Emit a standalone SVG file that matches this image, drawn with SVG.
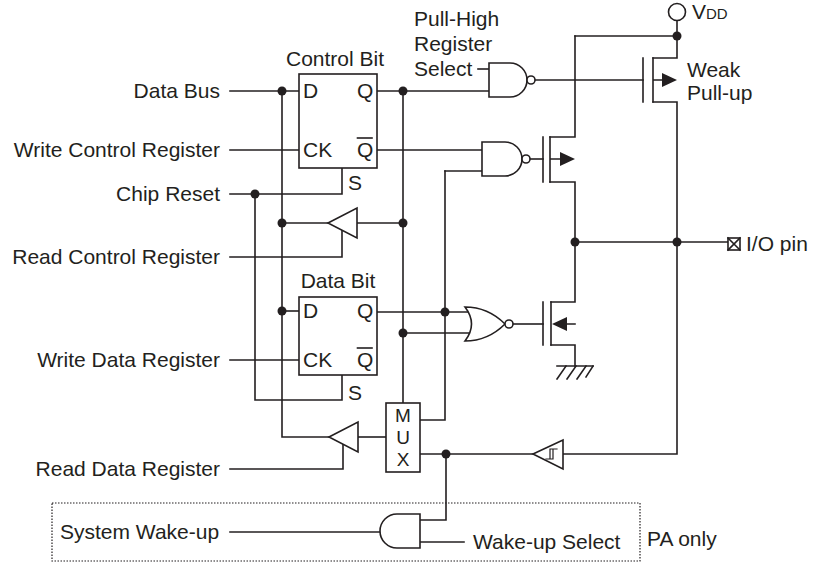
<svg xmlns="http://www.w3.org/2000/svg" width="817" height="565" viewBox="0 0 817 565">
<style>
.w{fill:none;stroke:#231f20;stroke-width:1.6;stroke-linecap:square}
.s{fill:#fff;stroke:#231f20;stroke-width:1.6}
.f{fill:#231f20;stroke:none}
.t{font-family:"Liberation Sans",Arial,sans-serif;font-size:21px;fill:#231f20}
.e{text-anchor:end}
.m{text-anchor:middle}
</style>
<defs>
<circle id="dot" r="4.5" class="f"/>
</defs>
<rect width="817" height="565" fill="#fff"/>

<g id="connectors" class="w">
<path d="M230,91 H299"/>
<path d="M230,150 H299"/>
<path d="M230,194 H342 V168"/>
<path d="M230,257 H342 V230"/>
<path d="M230,360 H299"/>
<path d="M230,469 H343 V444"/>
<path d="M282,91 V437 H329"/>
<path d="M282,311 H299"/>
<path d="M282,223 H328"/>
<path d="M255,194 V400 H342 V375"/>
<path d="M377,91 H489"/>
<path d="M403,91 V403"/>
<path d="M357,223 H403"/>
<path d="M403,333 H470"/>
<path d="M377,150 H482"/>
<path d="M478,69 H489"/>
<path d="M535,80 H643"/>
<path d="M530,159 H543"/>
<path d="M377,312 H470"/>
<path d="M445,171 H482"/>
<path d="M445,171 V420 H420"/>
<path d="M513,324 H543"/>
<path d="M358,437 H386"/>
<path d="M677,20.5 V58 H653"/>
<path d="M575,36 H677"/>
<path d="M575,36 V137 H550"/>
<path d="M653,102 H677 V454 H563"/>
<path d="M550,182 H575 V302 H551"/>
<path d="M551,345 H575 V366"/>
<path d="M575,242 H728"/>
<path d="M533,454 H420"/>
<path d="M446,454 V520 H420"/>
<path d="M420,542 H464"/>
<path d="M380,532 H230"/>
<use href="#dot" x="282" y="91"/>
<use href="#dot" x="403" y="91"/>
<use href="#dot" x="255" y="194"/>
<use href="#dot" x="282" y="223"/>
<use href="#dot" x="403" y="223"/>
<use href="#dot" x="282" y="311"/>
<use href="#dot" x="445" y="312"/>
<use href="#dot" x="403" y="333"/>
<use href="#dot" x="575" y="242"/>
<use href="#dot" x="677" y="242"/>
<use href="#dot" x="677" y="36"/>
<use href="#dot" x="446" y="454"/>
</g>

<g id="labels-left" class="t e">
<text x="220" y="98">Data Bus</text>
<text x="220" y="157">Write Control Register</text>
<text x="220" y="201">Chip Reset</text>
<text x="220" y="264">Read Control Register</text>
<text x="220" y="367">Write Data Register</text>
<text x="220" y="476">Read Data Register</text>
</g>

<g id="ff-control">
<rect x="299" y="74" width="78" height="94" class="s"/>
<text class="t m" x="335" y="66">Control Bit</text>
<text class="t" x="303" y="98">D</text>
<text class="t" x="357" y="98">Q</text>
<text class="t" x="303" y="157">CK</text>
<text class="t" x="357" y="157">Q</text>
<path class="w" d="M357.5,138 H372"/>
<text class="t" x="348" y="190">S</text>
</g>

<g id="ff-data">
<rect x="299" y="297" width="78" height="78" class="s"/>
<text class="t m" x="338" y="288">Data Bit</text>
<text class="t" x="303" y="318">D</text>
<text class="t" x="357" y="318">Q</text>
<text class="t" x="303" y="367">CK</text>
<text class="t" x="357" y="367">Q</text>
<path class="w" d="M357.5,348 H372"/>
<text class="t" x="348" y="400">S</text>
</g>

<g id="buf-read-control">
<polygon class="s" points="328,223 357,208 357,238"/>
</g>
<g id="buf-read-data">
<polygon class="s" points="329,437 358,422 358,452"/>
</g>

<g id="mux">
<rect x="386" y="403" width="34" height="69" class="s"/>
<text class="t m" x="403" y="422" style="font-size:19px">M</text>
<text class="t m" x="403" y="444" style="font-size:19px">U</text>
<text class="t m" x="403" y="466" style="font-size:19px">X</text>
</g>

<g id="pull-high-label" class="t">
<text x="414" y="26">Pull-High</text>
<text x="414" y="51">Register</text>
<text x="414" y="76">Select</text>
</g>

<g id="nand1">
<path class="s" d="M489,63 H510 A17,17 0 0 1 510,97 H489 Z"/>
<circle class="s" cx="531" cy="80" r="4"/>
</g>

<g id="nand2">
<path class="s" d="M482,142 H505 A17,17 0 0 1 505,176 H482 Z"/>
<circle class="s" cx="526" cy="159" r="4"/>
</g>

<g id="nor">
<path class="s" d="M465,307 Q488,307 505,324 Q488,341 465,341 Q478,324 465,307 Z"/>
<circle class="s" cx="509" cy="324" r="4"/>
</g>

<g id="pmos-weak">
<path class="w" d="M643,58 V102 M653,58 V102 M653,80 H664"/>
<polygon class="f" points="677,80 662,73 662,87"/>
</g>
<g id="pmos-drive">
<path class="w" d="M543,137 V182 M550,137 V182 M550,159 H562"/>
<polygon class="f" points="575,159 560,152 560,166"/>
</g>
<g id="nmos-drive">
<path class="w" d="M543,302 V345 M551,302 V345 M566,324 H575"/>
<polygon class="f" points="552,324 567,317 567,331"/>
</g>

<g id="ground" class="w">
<path d="M557,366 H593"/>
<path d="M566,366 L557,379 M576,366 L567,379 M586,366 L577,379 M593,366 L586,377"/>
</g>

<g id="vdd">
<circle class="s" cx="677" cy="12" r="8.5"/>
<text class="t" x="692" y="19">V<tspan font-size="15">DD</tspan></text>
</g>

<g id="weak-label" class="t">
<text x="687" y="77">Weak</text>
<text x="687" y="100">Pull-up</text>
</g>

<g id="io-pin">
<rect x="728" y="238" width="12" height="12" class="s"/>
<path class="w" d="M728,238 L740,250 M740,238 L728,250"/>
<text class="t" x="746" y="251">I/O pin</text>
</g>

<g id="schmitt">
<polygon class="s" points="533,454 563,440 563,469"/>
<path class="w" style="stroke-width:1.2" d="M546,459 H553 V449 M550,459 V449 H557"/>
</g>

<g id="and-wake">
<path class="s" d="M420,514 H397 A17,17 0 0 0 397,548 H420 Z"/>
</g>

<g id="pa-only">
<rect x="52" y="503" width="588" height="58" fill="none" stroke="#231f20" stroke-width="1.2" stroke-dasharray="1.5 1.5"/>
<text class="t" x="60" y="539">System Wake-up</text>
<text class="t" x="473" y="549">Wake-up Select</text>
<text class="t" x="647" y="546">PA only</text>
</g>
</svg>
